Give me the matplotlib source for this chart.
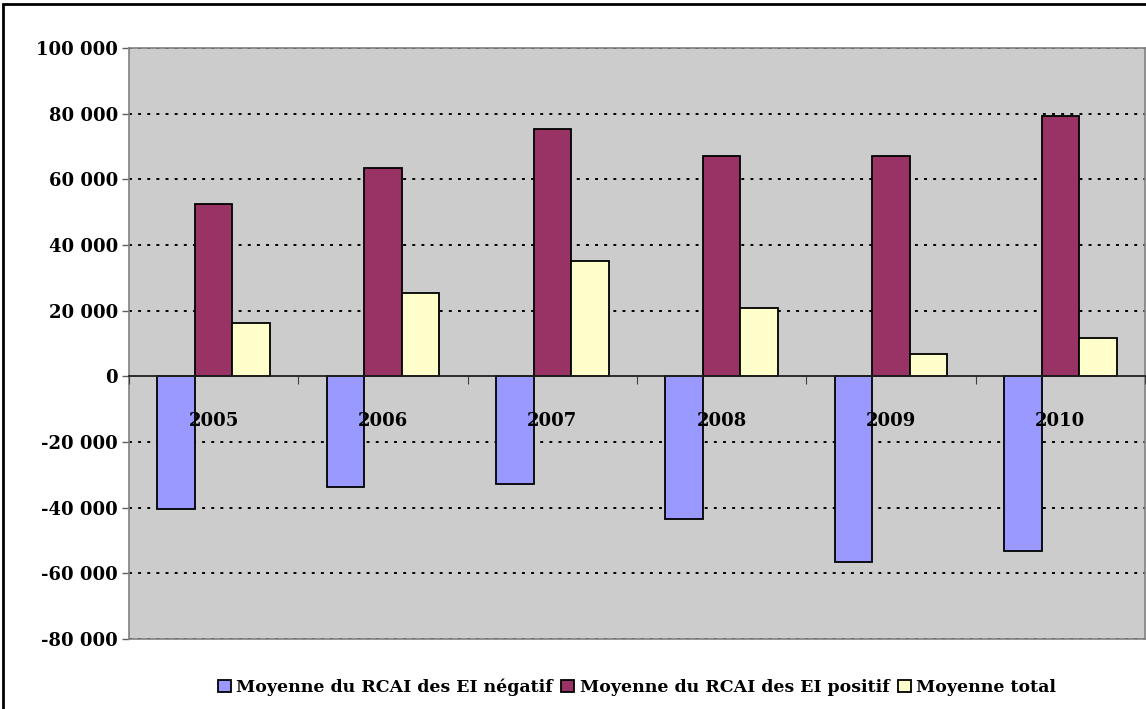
import numpy as np
import matplotlib
matplotlib.use('Agg')
import matplotlib.pyplot as plt
from matplotlib.patches import Rectangle
from matplotlib.ticker import FuncFormatter

# values
years = ['2005', '2006', '2007', '2008', '2009', '2010']
moy_negatif = [-40400, -33700, -32700, -43400, -56700, -53100]
moy_positif = [52500, 63600, 75300, 67200, 67200, 79400]
moy_total = [16300, 25400, 35100, 20900, 6700, 11700]
series_names = ['Moyenne du RCAI des EI négatif', 'Moyenne du RCAI des EI positif', 'Moyenne total']
series_colors = ['#9999FF', '#993366', '#FFFFCC']
y_ticks = list(range(-80000, 100001, 20000))

plt.rcParams['font.family'] = ['DejaVu Serif']
plt.rcParams['font.weight'] = 'bold'

fig = plt.figure(figsize=(11.46, 7.09), dpi=100)
ax = fig.add_axes([129 / 1146, 1 - 639 / 709, (1145 - 129) / 1146, (639 - 48) / 709])
ax.set_facecolor('#CCCCCC')

# outer chart frame (only top/left visible in the reference)
fig.patches.append(Rectangle((3 / 1146, -0.05), 1.1, 1 - 4 / 709 + 0.05, transform=fig.transFigure,
                             fill=False, edgecolor='black', linewidth=2, clip_on=False))

x = np.arange(len(years))
bw = 1 / 4.5
for i, (vals, name, col) in enumerate(zip([moy_negatif, moy_positif, moy_total], series_names, series_colors)):
    ax.bar(x + (i - 1) * bw, vals, width=bw, color=col, edgecolor='black', linewidth=1.3,
           label=name, zorder=3)

ymin, ymax = y_ticks[0], y_ticks[-1]
ax.set_ylim(ymin, ymax)
ax.set_xlim(-0.5, len(years) - 0.5)

# dotted gridlines
for v in y_ticks:
    if v != 0:
        ax.axhline(v, color='black', linewidth=1.4, linestyle=(0, (1.5, 3.2)), zorder=1)

ax.set_yticks(y_ticks)
ax.yaxis.set_major_formatter(FuncFormatter(lambda v, p: f'{int(v):,}'.replace(',', ' ')))
ax.tick_params(axis='y', length=5, width=1, color='#606060', pad=3, labelsize=13)
ax.set_xticks([])
for s in ax.spines.values():
    s.set_color('#808080')
    s.set_linewidth(1.2)

# category axis crossing at zero
zero_frac = (0 - ymin) / (ymax - ymin)
sec = ax.secondary_xaxis(zero_frac)
sec.set_zorder(10)
sec.spines['bottom'].set_color('#202020')
sec.spines['bottom'].set_linewidth(1.3)
sec.set_xticks(np.arange(len(years) + 1) - 0.5)
sec.set_xticklabels([''] * (len(years) + 1))
sec.set_xticks(x, labels=years, minor=True)
sec.tick_params(axis='x', which='major', length=6, color='#404040', direction='out')
sec.tick_params(axis='x', which='minor', length=0, pad=26, labelsize=13)

leg = ax.legend(loc='upper center', bbox_to_anchor=(0.5, -0.055), ncol=3, frameon=False,
                fontsize=12.5, handlelength=0.75, handleheight=0.75, handletextpad=0.3,
                columnspacing=0.5, borderaxespad=0)

fig.savefig('out.png', dpi=100)
